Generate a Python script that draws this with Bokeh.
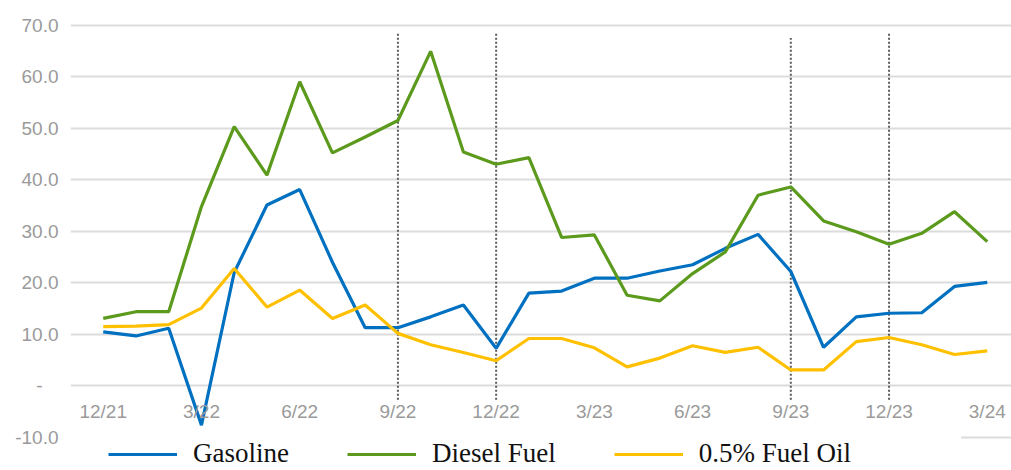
from bokeh.plotting import figure
from bokeh.models import (FixedTicker, Legend, LegendItem, LinearAxis,
                          Range1d, BoxAnnotation)
from bokeh.embed import file_html
from bokeh.resources import INLINE

# ---- data -------------------------------------------------------------
months = ["12/21", "1/22", "2/22", "3/22", "4/22", "5/22", "6/22", "7/22",
          "8/22", "9/22", "10/22", "11/22", "12/22", "1/23", "2/23", "3/23",
          "4/23", "5/23", "6/23", "7/23", "8/23", "9/23", "10/23", "11/23",
          "12/23", "1/24", "2/24", "3/24"]
gasoline = [10.5, 9.7, 11.2, -7.6, 22.0, 35.1, 38.1, 24.0, 11.3, 11.3, 13.4,
            15.7, 7.3, 18.0, 18.4, 20.9, 20.9, 22.3, 23.5, 26.7, 29.4, 22.2,
            7.5, 13.4, 14.1, 14.2, 19.3, 20.1]
diesel = [13.1, 14.4, 14.4, 34.8, 50.3, 40.9, 59.0, 45.2, 48.3, 51.5, 64.9,
          45.4, 43.0, 44.3, 28.8, 29.3, 17.6, 16.5, 21.8, 26.0, 37.0, 38.6,
          32.0, 29.9, 27.5, 29.6, 33.8, 28.0]
fuel_oil = [11.5, 11.6, 11.9, 15.1, 22.8, 15.3, 18.6, 13.1, 15.7, 10.2, 8.0,
            6.5, 4.9, 9.2, 9.2, 7.4, 3.7, 5.4, 7.8, 6.5, 7.5, 3.1, 3.1, 8.6,
            9.4, 8.0, 6.1, 6.8]
series_names = ["Gasoline", "Diesel Fuel", "0.5% Fuel Oil"]
series_colors = ["#0070C0", "#5B9A1C", "#FFC000"]

tick_idx = [0, 3, 6, 9, 12, 15, 18, 21, 24, 27]
y_ticks = [-10, 0, 10, 20, 30, 40, 50, 60, 70]

# event markers (vertical dotted lines)
event_idx = [9, 12, 21, 24]
event_top = [68.5, 68.7, 67.5, 68.3]
event_bottom = [-2.7, -2.7, -2.7, -2.7]

x = list(range(len(months)))

# ---- figure -----------------------------------------------------------
p = figure(width=1011, height=470, output_backend="svg", toolbar_location=None,
           x_range=Range1d(-1.0, 27.74), y_range=Range1d(-16.4, 70.5),
           x_axis_location=None, y_axis_location=None,
           min_border_left=70, min_border_right=0, min_border_top=22,
           min_border_bottom=0)
p.outline_line_color = None
p.background_fill_color = "white"

# y axis
yax = LinearAxis(ticker=FixedTicker(ticks=y_ticks))
yax.axis_line_color = None
yax.major_tick_line_color = None
yax.minor_tick_line_color = None
yax.major_label_text_font = "Liberation Sans"
yax.major_label_text_font_size = "19px"
yax.major_label_text_color = "#9A9A9A"
yax.major_label_standoff = 6
yax.major_label_overrides = {v: ("-\u00a0\u00a0\u00a0" if v == 0 else f"{v:.1f}")
                             for v in y_ticks}
p.add_layout(yax, "left")

# x axis at y = 0
xax = LinearAxis(ticker=FixedTicker(ticks=tick_idx), fixed_location=0)
xax.axis_line_color = None
xax.major_tick_line_color = None
xax.minor_tick_line_color = None
xax.major_label_text_font = "Liberation Sans"
xax.major_label_text_font_size = "19px"
xax.major_label_text_color = "#9A9A9A"
xax.major_label_standoff = 9
xax.major_label_overrides = {i: months[i] for i in tick_idx}
p.add_layout(xax, "below")

p.xgrid.visible = False
p.ygrid.ticker = FixedTicker(ticks=y_ticks)
p.ygrid.grid_line_color = "#DCDCDC"
p.ygrid.grid_line_width = 2
p.ygrid.bounds = (-0.5, 27.5)

# event markers
p.segment(x0=event_idx, x1=event_idx, y0=event_bottom, y1=event_top,
          line_color="#5A5A5A", line_width=2, line_dash="2 2")

renderers = []
for vals, col in zip([gasoline, diesel, fuel_oil], series_colors):
    r = p.line(x, vals, line_color=col, line_width=3.2)
    renderers.append(r)

# white panel behind the legend (covers the lowest gridline)
p.add_layout(BoxAnnotation(left=-1.0, right=26.2, top=-9.2, bottom=-16.4,
                           fill_color="white", fill_alpha=1.0,
                           line_color=None))

legend = Legend(items=[LegendItem(label=n, renderers=[r])
                       for n, r in zip(series_names, renderers)],
                orientation="horizontal", location=(38, 1))
legend.label_text_font = "Liberation Serif"
legend.label_text_font_size = "27px"
legend.label_text_color = "#111111"
legend.glyph_width = 69
legend.label_standoff = 16
legend.spacing = 58
legend.padding = 0
legend.margin = 0
legend.background_fill_alpha = 0
legend.border_line_color = None
p.add_layout(legend, "center")

open("out.html", "w").write(file_html(p, INLINE))
